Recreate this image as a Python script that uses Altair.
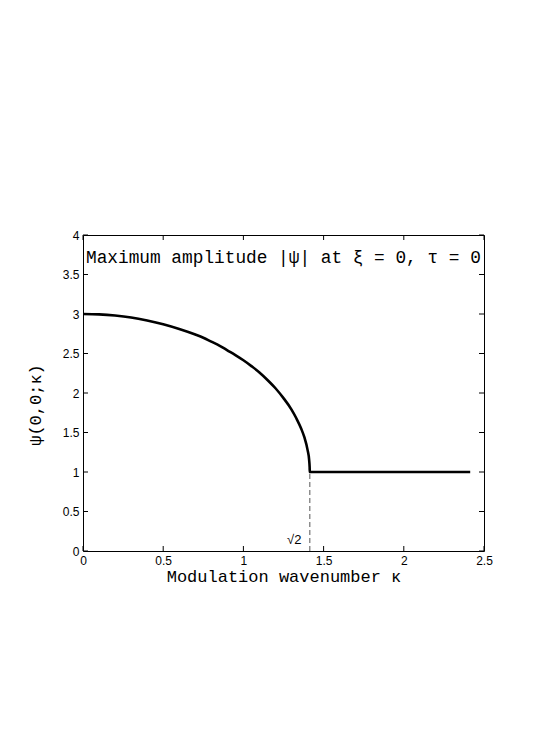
import altair as alt
import pandas as pd

# Curve
kappa = [0, 0.1, 0.2, 0.3, 0.4, 0.5, 0.6, 0.7, 0.75, 0.8, 0.85, 0.9, 0.95, 1.0, 1.05,
         1.1, 1.15, 1.2, 1.25, 1.3, 1.33, 1.36, 1.38, 1.40, 1.41, 1.413, 1.414,
         1.6, 1.8, 2.0, 2.2, 2.414]
psi = [3.0, 2.995, 2.98, 2.955, 2.917, 2.87, 2.81, 2.74, 2.70, 2.65, 2.60, 2.54, 2.48,
       2.414, 2.34, 2.26, 2.165, 2.06, 1.935, 1.79, 1.68, 1.55, 1.44, 1.28, 1.15, 1.06, 1.0,
       1.0, 1.0, 1.0, 1.0, 1.0]

x_ticks = [0, 0.5, 1, 1.5, 2, 2.5]
y_ticks = [0, 0.5, 1, 1.5, 2, 2.5, 3, 3.5, 4]
sqrt2 = 1.4142
marker_label = "√2"
marker_label_pos = [1.317, 0.14]
title_text = "Maximum amplitude |ψ| at ξ = 0, τ = 0"
x_title = "Modulation wavenumber κ"
y_title = "ψ(0,0;κ)"

W, H = 401, 316
TL = 5

xs = alt.Scale(domain=[0, 2.5], nice=False, zero=False)
ys = alt.Scale(domain=[0, 4], nice=False, zero=False)

ax_x = alt.Axis(values=x_ticks, format="~g", ticks=False, grid=False, domain=False,
                labelFlush=False, labelOverlap=False,
                labelFont="Liberation Sans", labelFontSize=12, labelColor="black",
                labelPadding=4, title=x_title, titleFont="Liberation Mono",
                titleFontSize=17, titleFontWeight="normal", titleColor="black",
                titlePadding=2)
ax_y = alt.Axis(values=y_ticks, format="~g", ticks=False, grid=False, domain=False,
                labelFlush=False, labelOverlap=False,
                labelFont="Liberation Sans", labelFontSize=12, labelColor="black",
                labelPadding=4, title="")

X = lambda: alt.X("kappa:Q", scale=xs, axis=ax_x)
Y = lambda: alt.Y("psi:Q", scale=ys, axis=ax_y)

df = pd.DataFrame({"kappa": kappa, "psi": psi})
xt = pd.DataFrame({"kappa": x_ticks})
yt = pd.DataFrame({"psi": y_ticks})
mk = pd.DataFrame({"kappa": [sqrt2], "psi": [0], "psi2": [1]})
lab = pd.DataFrame({"kappa": [marker_label_pos[0]], "psi": [marker_label_pos[1]], "s": [marker_label]})
one = pd.DataFrame({"a": [0]})

line = alt.Chart(df).mark_line(color="black", strokeWidth=2.6, interpolate="monotone").encode(
    x=X(), y=Y())

dash = alt.Chart(mk).mark_rule(color="#555555", strokeWidth=1, strokeDash=[5, 3]).encode(
    x=X(), y=Y(), y2="psi2:Q")

mlabel = alt.Chart(lab).mark_text(font="Liberation Sans", fontSize=13, color="black").encode(
    x=X(), y=Y(), text="s:N")

tick_style = dict(color="black", strokeWidth=1)
bt = alt.Chart(xt).mark_rule(**tick_style).encode(x=X(), y=alt.value(H), y2=alt.value(H - TL))
tt = alt.Chart(xt).mark_rule(**tick_style).encode(x=X(), y=alt.value(0), y2=alt.value(TL))
lt = alt.Chart(yt).mark_rule(**tick_style).encode(y=Y(), x=alt.value(0), x2=alt.value(TL))
rt = alt.Chart(yt).mark_rule(**tick_style).encode(y=Y(), x=alt.value(W), x2=alt.value(W - TL))

title = alt.Chart(one).mark_text(font="Liberation Mono", fontSize=17.8, color="black",
                                 align="left", baseline="alphabetic").encode(
    x=alt.value(3), y=alt.value(28), text=alt.value(title_text))

ytitle = alt.Chart(one).mark_text(font="Liberation Mono", fontSize=17, color="black",
                                  align="center", baseline="middle", angle=270).encode(
    x=alt.value(-47), y=alt.value(H / 2 + 12), text=alt.value(y_title))

chart = alt.layer(line, dash, mlabel, bt, tt, lt, rt, title, ytitle).properties(
    width=W, height=H,
    autosize=alt.AutoSizeParams(type="none"),
    padding={"left": 75, "top": 227, "right": 42, "bottom": 197},
    background="white",
).configure_view(stroke="black", strokeWidth=1)

chart.save("out.html", embed_options={"renderer": "svg", "actions": False})
